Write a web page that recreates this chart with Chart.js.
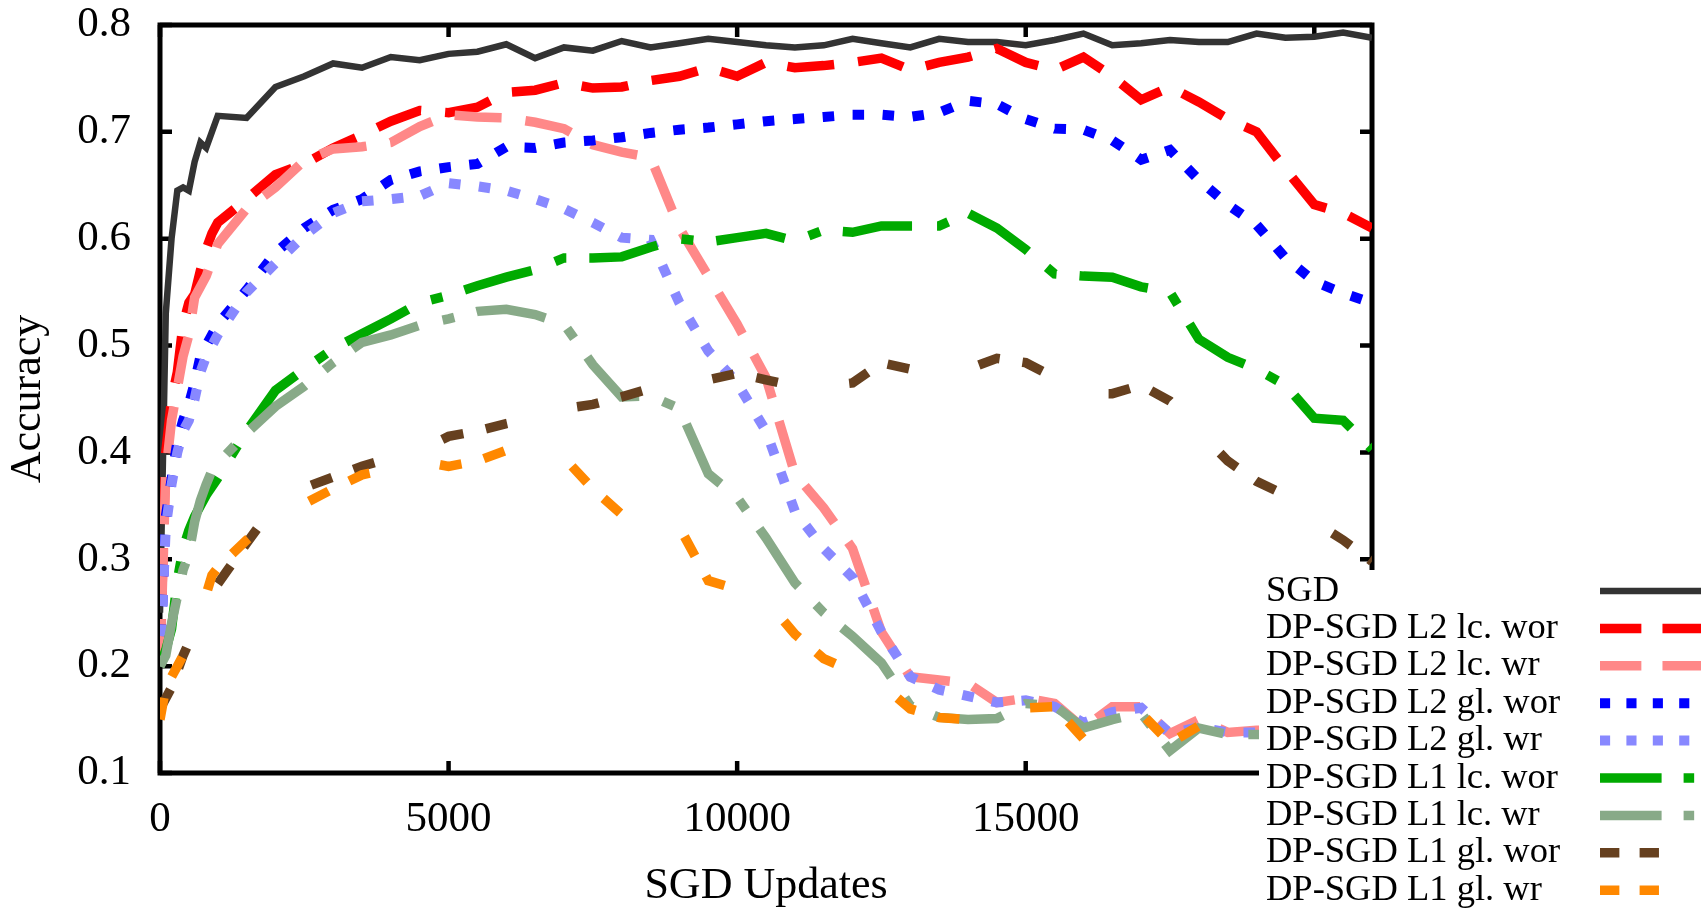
<!DOCTYPE html>
<html><head><meta charset="utf-8">
<script src="https://cdn.jsdelivr.net/npm/chart.js@4/dist/chart.umd.min.js"></script>
<style>html,body{margin:0;padding:0;background:#fff;overflow:hidden}#wrap{width:1708px;height:909px}</style>
</head><body><div id="wrap"><canvas id="c" width="1708" height="909"></canvas></div>
<script>
// ---- data ----
const updates = [0,100,200,300,400,500,600,700,800,900,1000,
  1500,2000,2500,3000,3500,4000,4500,5000,
  5500,6000,6500,7000,7500,8000,8500,9000,9500,10000,
  10500,11000,11500,12000,12500,13000,13500,14000,14500,15000,
  15500,16000,16500,17000,17500,18000,18500,19000,19500,20000,
  20500,21000];

const sgd = [0.25,0.53,0.60,0.645,0.648,0.645,0.672,0.69,0.685,0.70,0.715,
  0.713,0.742,0.752,0.764,0.760,0.770,0.767,0.773,
  0.775,0.782,0.769,0.779,0.776,0.785,0.779,0.783,0.787,0.784,
  0.781,0.779,0.781,0.787,0.783,0.779,0.787,0.784,0.784,0.781,
  0.786,0.792,0.781,0.783,0.786,0.784,0.784,0.792,0.788,0.789,
  0.793,0.788];

const l2LcWor = [0.20,0.40,0.45,0.475,0.52,0.54,0.548,0.57,0.59,0.605,0.615,
  0.637,0.66,0.67,0.685,0.697,0.71,0.72,0.718,
  0.723,0.737,0.739,0.746,0.741,0.742,0.748,0.752,0.760,0.752,
  0.765,0.760,0.762,0.765,0.769,0.758,0.765,0.770,0.778,0.765,
  0.758,0.770,0.752,0.730,0.742,0.728,0.712,0.700,0.665,0.632,
  0.624,0.610];

const l2LcWr = [0.20,0.38,0.43,0.46,0.49,0.51,0.545,0.555,0.565,0.58,0.595,
  0.628,0.648,0.673,0.684,0.686,0.690,0.705,0.716,
  0.714,0.713,0.709,0.703,0.688,0.681,0.676,0.610,0.565,0.520,
  0.470,0.380,0.348,0.310,0.232,0.190,0.187,0.184,0.166,0.170,
  0.165,0.142,0.162,0.162,0.137,0.150,0.138,0.140,0.140,0.140,
  0.140,0.140];

const l2GlWor = [0.20,0.34,0.375,0.41,0.43,0.445,0.465,0.49,0.50,0.51,0.52,
  0.552,0.587,0.61,0.627,0.637,0.655,0.663,0.667,
  0.670,0.686,0.685,0.690,0.692,0.695,0.699,0.702,0.704,0.707,
  0.710,0.712,0.714,0.716,0.716,0.714,0.718,0.729,0.726,0.712,
  0.703,0.702,0.692,0.674,0.683,0.655,0.632,0.613,0.582,0.560,
  0.549,0.540];

const l2GlWr = [0.20,0.33,0.37,0.40,0.42,0.43,0.45,0.475,0.49,0.50,0.51,
  0.550,0.577,0.603,0.624,0.635,0.637,0.640,0.652,
  0.649,0.645,0.637,0.628,0.615,0.601,0.599,0.540,0.495,0.465,
  0.420,0.345,0.310,0.283,0.232,0.190,0.178,0.172,0.166,0.168,
  0.162,0.147,0.157,0.161,0.137,0.143,0.138,0.138,0.138,0.138,
  0.138,0.138];

const l1LcWor = [0.20,0.215,0.235,0.28,0.31,0.327,0.34,0.35,0.36,0.368,0.376,
  0.42,0.458,0.478,0.497,0.511,0.525,0.540,0.547,
  0.556,0.564,0.571,0.582,0.582,0.583,0.592,0.600,0.597,0.601,
  0.605,0.598,0.608,0.606,0.612,0.612,0.612,0.624,0.610,0.590,
  0.567,0.565,0.564,0.555,0.550,0.506,0.489,0.478,0.463,0.432,
  0.430,0.403];

const l1LcWr = [0.20,0.21,0.24,0.265,0.29,0.305,0.335,0.355,0.37,0.383,0.39,
  0.418,0.443,0.462,0.484,0.503,0.510,0.519,0.525,
  0.532,0.534,0.529,0.520,0.482,0.452,0.453,0.441,0.380,0.358,
  0.320,0.278,0.250,0.228,0.203,0.163,0.152,0.150,0.151,0.165,
  0.163,0.142,0.150,0.156,0.121,0.142,0.136,0.136,0.136,0.136,
  0.136,0.136];

const l1GlWor = [0.16,0.17,0.18,0.195,0.21,0.222,0.23,0.237,0.255,0.27,0.277,
  0.315,0.352,0.367,0.377,0.387,0.395,0.402,0.415,
  0.420,0.427,0.433,0.441,0.445,0.452,0.460,0.468,0.468,0.474,
  0.468,0.462,0.462,0.465,0.484,0.478,0.472,0.478,0.488,0.484,
  0.470,0.455,0.455,0.463,0.448,0.420,0.392,0.373,0.360,0.335,
  0.318,0.298];

const l1GlWr = [0.15,0.18,0.19,0.20,0.21,0.222,0.235,0.25,0.267,0.285,0.292,
  0.318,0.34,0.352,0.366,0.379,0.385,0.392,0.387,
  0.392,0.402,0.400,0.395,0.366,0.342,0.336,0.330,0.280,0.272,
  0.262,0.230,0.207,0.195,0.183,0.160,0.152,0.150,0.155,0.161,
  0.162,0.132,0.150,0.156,0.128,0.144,0.138,0.138,0.138,0.138,
  0.138,0.138];

const seriesLabels = ['SGD','DP-SGD L2 lc. wor','DP-SGD L2 lc. wr','DP-SGD L2 gl. wor','DP-SGD L2 gl. wr',
  'DP-SGD L1 lc. wor','DP-SGD L1 lc. wr','DP-SGD L1 gl. wor','DP-SGD L1 gl. wr'];
const seriesValues = [sgd,l2LcWor,l2LcWr,l2GlWor,l2GlWr,l1LcWor,l1LcWr,l1GlWor,l1GlWr];
const xTickStep = 5000;
const yTickStep = 0.1;

// ---- styles ----
const styles = [
  {color:'#333333', width:6.5, dash:[]},
  {color:'#ff0000', width:9.5, dash:[47,24]},
  {color:'#ff8888', width:9.5, dash:[47,24]},
  {color:'#0000ff', width:10, dash:[11.5,18.5]},
  {color:'#8888ff', width:10, dash:[11.5,18.5]},
  {color:'#00aa00', width:9.5, dash:[70,25,12,23]},
  {color:'#88aa88', width:9.5, dash:[70,25,12,23]},
  {color:'#66401f', width:9.5, dash:[22,23,22,72]},
  {color:'#ff8800', width:9.5, dash:[22,23,22,72]}
];
const SERIF = '"Liberation Serif", "Times New Roman", serif';

const datasets = seriesValues.map((vals,i)=>({
  label: seriesLabels[i],
  data: vals.map((v,j)=>({x:updates[j], y:v})),
  borderColor: styles[i].color,
  backgroundColor: styles[i].color,
  borderWidth: styles[i].width,
  borderDash: styles[i].dash,
  borderCapStyle: 'butt',
  borderJoinStyle: 'miter',
  pointRadius: 0,
  fill: false,
  tension: 0,
  order: seriesValues.length - 1 - i
}));

const framePlugin = {
  id: 'frame',
  beforeDatasetsDraw(chart){
    const {ctx, chartArea:a, scales} = chart;
    ctx.save();
    ctx.strokeStyle = '#000';
    ctx.lineWidth = 5;
    ctx.strokeRect(a.left, a.top, a.right - a.left, a.bottom - a.top);
    ctx.lineWidth = 4.5;
    const tl = 12;
    ctx.beginPath();
    scales.x.ticks.forEach(t=>{
      const px = scales.x.getPixelForValue(t.value);
      ctx.moveTo(px, a.bottom); ctx.lineTo(px, a.bottom - tl);
      ctx.moveTo(px, a.top); ctx.lineTo(px, a.top + tl);
    });
    scales.y.ticks.forEach(t=>{
      const py = scales.y.getPixelForValue(t.value);
      ctx.moveTo(a.left, py); ctx.lineTo(a.left + tl, py);
      ctx.moveTo(a.right, py); ctx.lineTo(a.right - tl, py);
    });
    ctx.stroke();
    ctx.restore();
  },
  afterDraw(chart){
    const {ctx, chartArea:a} = chart;
    const box = {left: a.right - 113, top: 570};
    ctx.save();
    ctx.fillStyle = '#fff';
    ctx.fillRect(box.left, box.top, chart.width - box.left, chart.height - box.top);
    const textX = box.left + 7, rowY0 = 591, rowH = 37.4;
    const sx0 = 1600, sx1 = 1701;
    ctx.font = '36.5px ' + SERIF;
    ctx.textBaseline = 'middle';
    ctx.textAlign = 'left';
    chart.data.datasets.forEach((ds,i)=>{
      const y = rowY0 + i*rowH;
      ctx.fillStyle = '#000';
      ctx.fillText(ds.label, textX, y);
      ctx.strokeStyle = ds.borderColor;
      ctx.lineWidth = ds.borderWidth;
      ctx.lineCap = 'butt';
      ctx.setLineDash(ds.borderDash.map(d=>d*0.88));
      ctx.beginPath(); ctx.moveTo(sx0, y); ctx.lineTo(sx1, y); ctx.stroke();
    });
    ctx.restore();
  }
};

new Chart(document.getElementById('c'), {
  type: 'line',
  data: {datasets},
  options: {
    responsive: false,
    animation: false,
    devicePixelRatio: 1,
    layout: {padding: {left:0, right:336, top:25, bottom:0}},
    plugins: {legend:{display:false}, tooltip:{enabled:false}},
    scales: {
      x: {
        type: 'linear', position: 'bottom', min: 0, max: 21000,
        grid: {display:false, drawTicks:false}, border: {display:false},
        ticks: {stepSize: xTickStep, includeBounds:false, autoSkip:false, maxRotation:0,
          color:'#000', padding:25, font:{family:SERIF, size:43, lineHeight:1},
          callback: v => String(v)},
        title: {display:true, text:'SGD Updates', color:'#000',
          font:{family:SERIF, size:44, lineHeight:1}, padding:{top:0, bottom:1}},
        afterBuildTicks(s){
          const t = [];
          for (let v = s.min; v <= s.max; v += xTickStep) t.push({value: v});
          s.ticks = t;
        },
        afterFit(s){ s.height = 136; s.paddingLeft = 0; s.paddingRight = 0; }
      },
      y: {
        type: 'linear', position: 'left', min: 0.1, max: 0.8,
        grid: {display:false, drawTicks:false}, border: {display:false},
        ticks: {stepSize: yTickStep, color:'#000', padding:29,
          font:{family:SERIF, size:43, lineHeight:1},
          callback: v => Number(v).toFixed(1)},
        title: {display:true, text:'Accuracy', color:'#000',
          font:{family:SERIF, size:44, lineHeight:1}, padding:{top:6, bottom:0}},
        afterFit(s){ s.width = 160; s.paddingTop = 0; s.paddingBottom = 0; }
      }
    }
  },
  plugins: [framePlugin]
});
</script>
</body></html>
